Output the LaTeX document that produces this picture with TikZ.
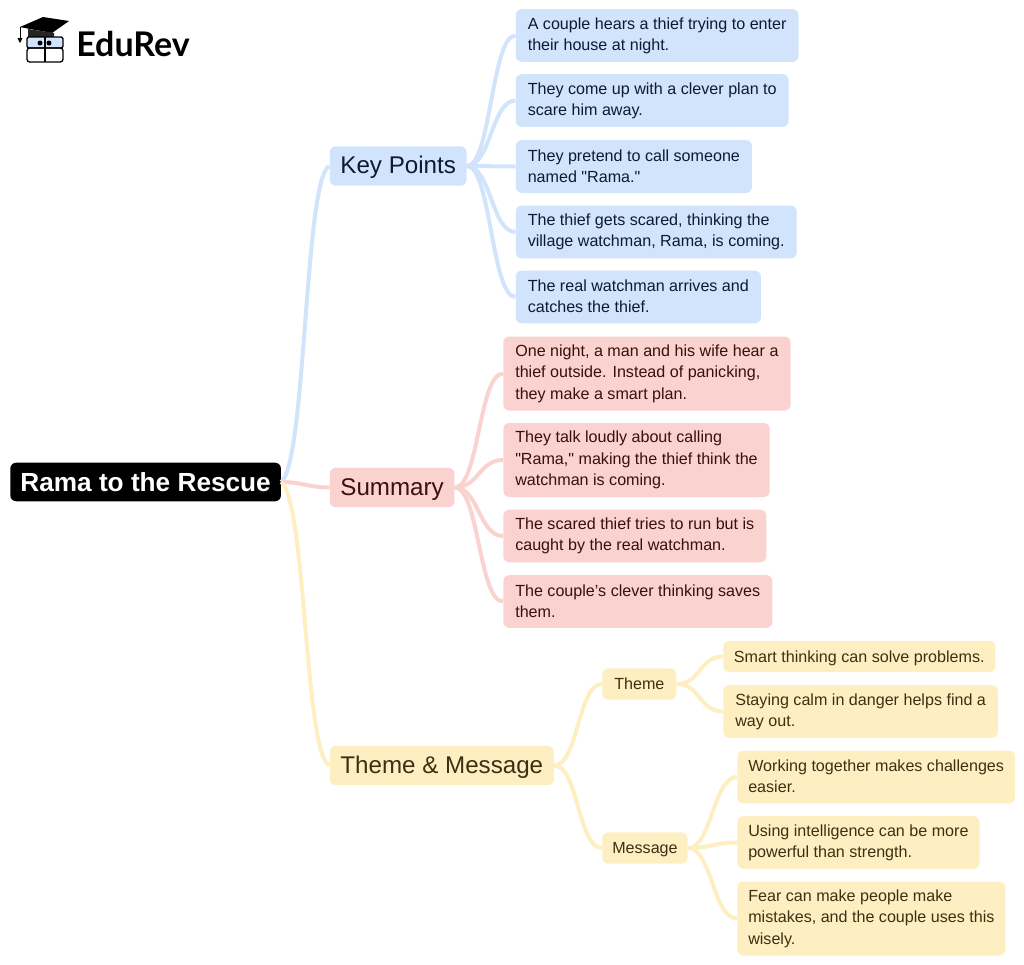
\documentclass[tikz,border=0pt]{standalone}
\usepackage{fontspec}
\newfontfamily\mapfont{Liberation Sans}
\newfontfamily\logofont{Lato}
\definecolor{blueback}{HTML}{D2E3FC}
\definecolor{redback}{HTML}{FAD2CF}
\definecolor{yellowback}{HTML}{FEEFC3}
\definecolor{bluetext}{HTML}{0E1A33}
\definecolor{redtext}{HTML}{3A0F0C}
\definecolor{yellowtext}{HTML}{3D3010}
\tikzset{
  plainbox/.style={rectangle,rounded corners=4.5pt,anchor=west,align=left,inner xsep=9pt,inner ysep=0pt,
    font=\mapfont\fontsize{12.08}{16}\selectfont,minimum height=39.5pt},
  leafbox/.style={plainbox,
    execute at begin node=\rule{0pt}{15pt},execute at end node=\rule[-1pt]{0pt}{1pt}},
  threeline/.style={minimum height=55.5pt},
  bluebox/.style={leafbox,fill=blueback,text=bluetext},
  redbox/.style={leafbox,fill=redback,text=redtext},
  yellowbox/.style={leafbox,fill=yellowback,text=yellowtext},
  singlebox/.style={plainbox,fill=yellowback,text=yellowtext,minimum height=23.5pt,
    execute at begin node=\rule[-3.45pt]{0pt}{15.45pt}},
  branchbox/.style={rectangle,rounded corners=4.5pt,anchor=west,inner xsep=8pt,inner ysep=0pt,
    font=\mapfont\fontsize{18.12}{22}\selectfont,minimum height=29.5pt,
    execute at begin node=\rule[-4.6pt]{0pt}{20.6pt}},
  rootbox/.style={rectangle,rounded corners=4.5pt,anchor=west,fill=black,text=white,inner xsep=7.6pt,inner ysep=0pt,
    font=\mapfont\fontsize{19.65}{24}\selectfont\bfseries,minimum height=29pt,
    execute at begin node=\rule[-3pt]{0pt}{20pt}},
  blueline/.style={draw=blueback,line width=3pt},
  redline/.style={draw=redback,line width=3pt},
  yellowline/.style={draw=yellowback,line width=3pt}
}
\begin{document}
\begin{tikzpicture}[x=0.75pt,y=-0.75pt]
\useasboundingbox (0,0) rectangle (1024,964);

\node [rootbox] (root) at (10,482) {Rama to the Rescue};
\node [branchbox,fill=blueback,text=bluetext] (keypoints) at (329.5,166) {Key Points};
\node [branchbox,fill=redback,text=redtext] (summary) at (329.5,487.5) {Summary};
\node [branchbox,fill=yellowback,text=yellowtext] (thememessage) at (329.5,765.5) {Theme \& Message};

\node [bluebox] (couple) at (515.5,35.5) {A couple hears a thief trying to enter\\their house at night.};
\node [bluebox] (plan) at (515.5,100.5) {They come up with a clever plan to\\scare him away.};
\node [bluebox] (pretend) at (515.5,166.5) {They pretend to call someone\\named "Rama."};
\node [bluebox] (scared) at (515.5,232) {The thief gets scared, thinking the\\village watchman, Rama, is coming.};
\node [bluebox] (arrives) at (515.5,297) {The real watchman arrives and\\catches the thief.};

\node [redbox,threeline] (night) at (503,373.5) {One night, a man and his wife hear a\\thief outside. Instead of panicking,\\they make a smart plan.};
\node [redbox,threeline] (loudly) at (503,460) {They talk loudly about calling\\"Rama," making the thief think the\\watchman is coming.};
\node [redbox] (run) at (503,536) {The scared thief tries to run but is\\caught by the real watchman.};
\node [redbox] (saves) at (503,601.5) {The couple’s clever thinking saves\\them.};

\node [singlebox] (theme) at (602,684) {Theme};
\node [singlebox,inner xsep=7.5pt] (message) at (602,848) {Message};
\node [singlebox,inner xsep=8pt] (smart) at (723,656.5) {Smart thinking can solve problems.};
\node [yellowbox] (calm) at (723,711.5) {Staying calm in danger helps find a\\way out.};
\node [yellowbox,inner xsep=8.25pt] (together) at (737,777) {Working together makes challenges\\easier.};
\node [yellowbox,inner xsep=8.25pt] (intelligence) at (737,842.5) {Using intelligence can be more\\powerful than strength.};
\node [yellowbox,threeline,inner xsep=8.25pt] (fear) at (737,918.5) {Fear can make people make\\mistakes, and the couple uses this\\wisely.};

\draw [blueline] (root.east) .. controls +(25,-20) and +(-25,10) .. (keypoints.west);
\draw [redline] (root.east) .. controls +(20,0) and +(-20,0) .. (summary.west);
\draw [yellowline] (root.east) .. controls +(25,20) and +(-25,-10) .. (thememessage.west);
\foreach \leaf in {couple,plan,pretend,scared,arrives}
  \draw [blueline] (keypoints.east) .. controls +(24,0) and +(-24,0) .. (\leaf.west);
\foreach \leaf in {night,loudly,run,saves}
  \draw [redline] (summary.east) .. controls +(24,0) and +(-24,0) .. (\leaf.west);
\foreach \leaf in {theme,message}
  \draw [yellowline] (thememessage.east) .. controls +(24,0) and +(-24,0) .. (\leaf.west);
\foreach \leaf in {smart,calm}
  \draw [yellowline] (theme.east) .. controls +(24,0) and +(-24,0) .. (\leaf.west);
\foreach \leaf in {together,intelligence,fear}
  \draw [yellowline] (message.east) .. controls +(24,0) and +(-24,0) .. (\leaf.west);

\fill [black] (20,27) -- (43,17) -- (69,21) -- (52,33) -- (30,29) -- cycle;
\fill [black!85] (28,29) -- (54,33) -- (54,37) -- (28,37) -- cycle;
\draw [black,line width=0.6pt] (20,27) -- (20,38);
\fill [black] (17.5,38) -- (22.5,38) -- (20,43) -- cycle;
\draw [black,line width=1pt,fill=blueback,rounded corners=1.5pt] (27,37) rectangle (63,48);
\draw [black,line width=1pt,rounded corners=2pt] (27,48) rectangle (63,62);
\draw [black,line width=1pt] (45,37) -- (45,62);
\fill [black] (40,43) circle (2.5) (49,43) circle (2.5);
\node [anchor=west,inner sep=0pt,font=\logofont\bfseries\fontsize{25.5}{28}\selectfont] (logotext) at (76,44) {EduRev};
\end{tikzpicture}
\end{document}
